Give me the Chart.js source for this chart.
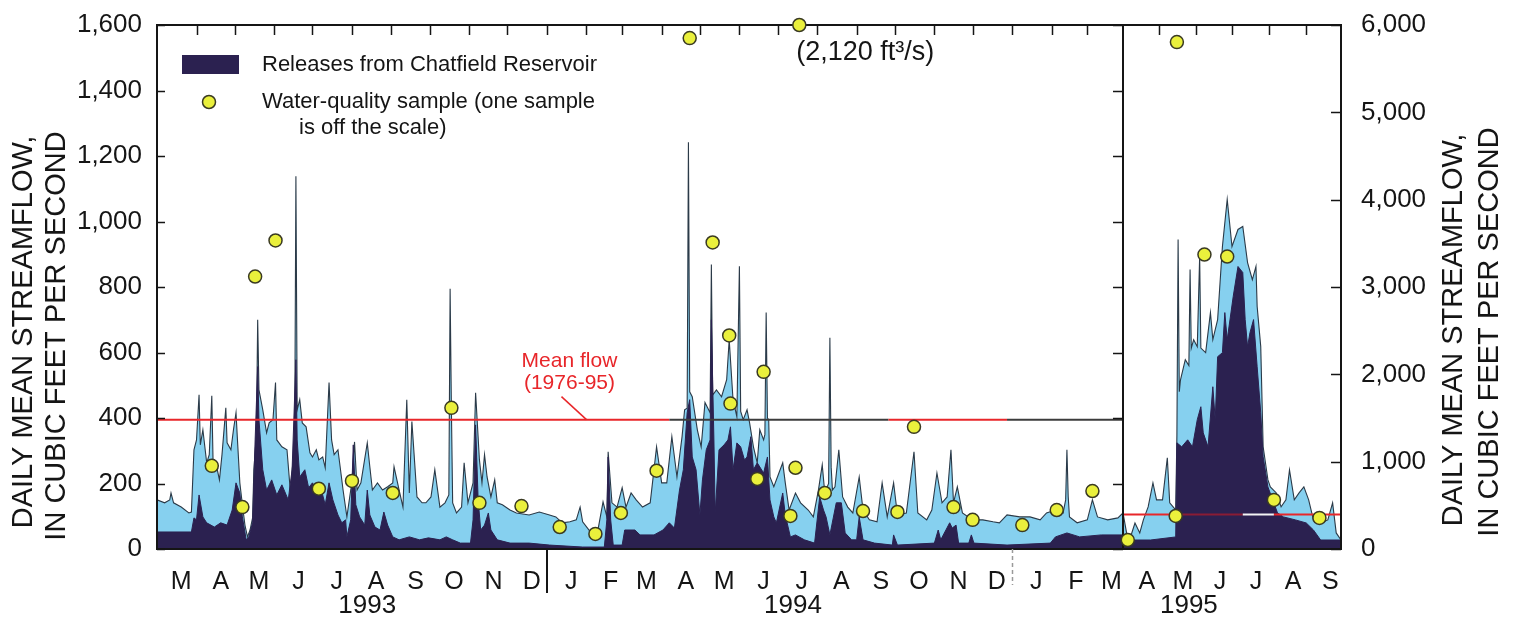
<!DOCTYPE html>
<html>
<head>
<meta charset="utf-8">
<script src="https://cdn.jsdelivr.net/npm/chart.js@4.4.1/dist/chart.umd.min.js"></script>
<style>
  html, body { margin: 0; padding: 0; background: #fff; }
  #wrap { position: relative; width: 1518px; height: 618px; overflow: hidden; }
  #left { position: absolute; left: 0; top: 0; }
  #right { position: absolute; left: 1100px; top: 0; }
</style>
</head>
<body>
<div id="wrap">
  <canvas id="left" width="1150" height="618"></canvas>
  <canvas id="right" width="418" height="618"></canvas>
</div>
<script>
// daily mean streamflow, cfs
const flow1993 = [
  ['1993-03-01',150],['1993-03-07',141],['1993-03-11',150],['1993-03-12',171],['1993-03-14',141],['1993-03-20',128],
  ['1993-03-26',110],['1993-03-28',113],['1993-03-30',303],['1993-04-01',333],['1993-04-03',471],['1993-04-04',318],
  ['1993-04-06',364],['1993-04-09',263],['1993-04-11',288],['1993-04-13',468],['1993-04-14',266],['1993-04-17',248],
  ['1993-04-19',211],['1993-04-21',288],['1993-04-24',431],['1993-04-25',324],['1993-04-28',303],['1993-04-30',364],
  ['1993-05-02',416],['1993-05-03',343],['1993-05-05',202],['1993-05-07',135],['1993-05-09',73],['1993-05-11',37],
  ['1993-05-13',58],['1993-05-15',95],['1993-05-16',242],['1993-05-18',350],['1993-05-19',700],['1993-05-20',486],
  ['1993-05-23',425],['1993-05-26',355],['1993-05-28',385],['1993-05-31',395],['1993-06-02',508],['1993-06-03',333],
  ['1993-06-07',312],['1993-06-11',303],['1993-06-14',159],['1993-06-15',242],['1993-06-17',300],['1993-06-18',1138],
  ['1993-06-19',425],['1993-06-21',456],['1993-06-23',385],['1993-06-26',373],['1993-06-29',294],['1993-07-01',281],
  ['1993-07-04',303],['1993-07-06',272],['1993-07-09',281],['1993-07-11',248],['1993-07-14',508],['1993-07-16',333],
  ['1993-07-18',288],['1993-07-21',303],['1993-07-23',242],['1993-07-25',180],['1993-07-28',98],['1993-07-31',180],
  ['1993-08-01',202],['1993-08-03',327],['1993-08-05',180],['1993-08-08',202],['1993-08-13',324],['1993-08-15',251],
  ['1993-08-17',180],['1993-08-21',202],['1993-08-25',180],['1993-08-29',190],['1993-09-02',202],['1993-09-03',251],
  ['1993-09-07',180],['1993-09-10',128],['1993-09-13',456],['1993-09-15',171],['1993-09-17',389],['1993-09-21',159],
  ['1993-09-25',141],['1993-09-28',141],['1993-10-02',159],['1993-10-05',242],['1993-10-09',128],['1993-10-13',141],
  ['1993-10-16',165],['1993-10-17',795],['1993-10-18',430],['1993-10-19',141],['1993-10-22',110],['1993-10-26',128],
  ['1993-10-28',263],['1993-10-31',141],['1993-11-04',202],['1993-11-06',477],['1993-11-09',272],['1993-11-11',202],
  ['1993-11-13',288],['1993-11-15',220],['1993-11-18',159],['1993-11-21',211],['1993-11-23',141],['1993-11-27',135],
  ['1993-12-03',119],['1993-12-08',110],['1993-12-18',104],['1993-12-26',113]
];
const flow1994 = [
  ['1994-01-03',104],['1994-01-08',98],['1994-01-13',80],['1994-01-19',83],['1994-01-24',89],['1994-01-27',128],
  ['1994-01-29',83],['1994-02-03',58],['1994-02-09',37],['1994-02-14',144],['1994-02-17',98],['1994-02-18',297],
  ['1994-02-21',141],['1994-02-25',128],['1994-03-01',187],['1994-03-04',128],['1994-03-08',171],['1994-03-12',150],
  ['1994-03-17',128],['1994-03-23',141],['1994-03-28',312],['1994-04-01',202],['1994-04-05',202],['1994-04-09',343],
  ['1994-04-13',220],['1994-04-17',343],['1994-04-19',425],['1994-04-21',430],['1994-04-22',1242],['1994-04-23',480],
  ['1994-04-25',465],['1994-04-29',364],['1994-05-02',312],['1994-05-05',447],['1994-05-09',416],['1994-05-10',869],
  ['1994-05-11',470],['1994-05-14',486],['1994-05-18',465],['1994-05-22',517],['1994-05-24',639],['1994-05-27',456],
  ['1994-05-30',404],['1994-06-01',863],['1994-06-02',420],['1994-06-04',395],['1994-06-07',425],['1994-06-09',385],
  ['1994-06-12',312],['1994-06-15',263],['1994-06-17',364],['1994-06-20',333],['1994-06-21',350],['1994-06-22',722],
  ['1994-06-23',400],['1994-06-24',395],['1994-06-25',220],['1994-06-28',190],['1994-07-02',232],['1994-07-05',263],
  ['1994-07-07',202],['1994-07-10',119],['1994-07-15',171],['1994-07-19',141],['1994-07-25',119],['1994-07-29',98],
  ['1994-08-02',180],['1994-08-05',257],['1994-08-07',171],['1994-08-10',200],['1994-08-11',645],['1994-08-12',250],
  ['1994-08-13',180],['1994-08-15',190],['1994-08-18',303],['1994-08-21',159],['1994-08-25',128],['1994-08-29',110],
  ['1994-09-03',220],['1994-09-06',119],['1994-09-11',89],['1994-09-17',83],['1994-09-21',202],['1994-09-25',98],
  ['1994-09-30',202],['1994-10-03',104],['1994-10-10',110],['1994-10-16',297],['1994-10-19',110],['1994-10-26',89],
  ['1994-10-30',119],['1994-11-03',232],['1994-11-07',141],['1994-11-11',159],['1994-11-14',303],['1994-11-16',141],
  ['1994-11-19',190],['1994-11-23',110],['1994-12-01',89],['1994-12-09',89],['1994-12-17',83],['1994-12-22',80],
  ['1994-12-28',104]
];
const flow1995Q1 = [
  ['1995-01-07',98],['1995-01-15',98],['1995-01-23',89],['1995-01-28',110],['1995-02-04',119],['1995-02-10',110],
  ['1995-02-12',150],['1995-02-13',303],['1995-02-14',160],['1995-02-15',98],['1995-02-21',80],['1995-03-01',89],
  ['1995-03-05',150],['1995-03-09',98],['1995-03-17',89],['1995-03-25',95],['1995-03-29',110]
];
const flow1995 = [
  ['1995-04-01',413],['1995-04-04',184],['1995-04-07',126],['1995-04-11',298],['1995-04-15',184],['1995-04-18',333],
  ['1995-04-22',482],['1995-04-26',757],['1995-04-29',562],['1995-05-04',562],['1995-05-08',1044],['1995-05-10',528],
  ['1995-05-15',447],['1995-05-16',1300],['1995-05-17',3544],['1995-05-18',1800],['1995-05-19',1938],['1995-05-23',2168],
  ['1995-05-26',2100],['1995-05-27',3200],['1995-05-28',2300],['1995-05-30',2397],['1995-06-02',2317],['1995-06-04',3349],
  ['1995-06-05',2300],['1995-06-09',2248],['1995-06-13',2707],['1995-06-15',2397],['1995-06-19',2627],['1995-06-23',3464],
  ['1995-06-27',4003],['1995-07-01',3464],['1995-07-06',3659],['1995-07-10',3693],['1995-07-14',3280],['1995-07-18',3085],
  ['1995-07-21',3235],['1995-07-22',2776],['1995-07-25',2317],['1995-07-27',1170],['1995-07-31',791],['1995-08-02',711],
  ['1995-08-07',642],['1995-08-11',482],['1995-08-15',562],['1995-08-18',906],['1995-08-22',562],['1995-08-26',642],
  ['1995-08-30',711],['1995-09-03',562],['1995-09-07',333],['1995-09-13',298],['1995-09-19',333],['1995-09-23',528],
  ['1995-09-26',184],['1995-09-30',103]
];

// releases from Chatfield Reservoir, cfs
const release1993 = [
  ['1993-03-01',52],['1993-03-28',52],['1993-03-30',95],['1993-04-01',89],['1993-04-03',165],['1993-04-06',98],
  ['1993-04-09',80],['1993-04-15',67],['1993-04-20',80],['1993-04-25',73],['1993-04-29',119],['1993-05-02',202],
  ['1993-05-05',171],['1993-05-07',98],['1993-05-10',28],['1993-05-12',37],['1993-05-15',80],['1993-05-17',333],
  ['1993-05-19',557],['1993-05-20',395],['1993-05-23',242],['1993-05-26',180],['1993-05-30',211],['1993-06-03',165],
  ['1993-06-07',196],['1993-06-12',150],['1993-06-15',242],['1993-06-18',578],['1993-06-19',333],['1993-06-21',220],
  ['1993-06-25',242],['1993-06-28',187],['1993-07-01',202],['1993-07-05',171],['1993-07-08',180],['1993-07-11',135],
  ['1993-07-14',202],['1993-07-17',150],['1993-07-21',104],['1993-07-24',80],['1993-07-27',89],['1993-07-28',37],
  ['1993-07-31',89],['1993-08-02',318],['1993-08-04',135],['1993-08-07',98],['1993-08-11',73],['1993-08-13',180],
  ['1993-08-15',104],['1993-08-19',67],['1993-08-23',58],['1993-08-26',113],['1993-08-29',73],['1993-09-02',37],
  ['1993-09-07',28],['1993-09-15',37],['1993-09-23',28],['1993-09-30',34],['1993-10-09',28],['1993-10-14',37],
  ['1993-10-19',28],['1993-10-25',18],['1993-11-02',18],['1993-11-04',89],['1993-11-06',379],['1993-11-08',150],
  ['1993-11-10',58],['1993-11-13',73],['1993-11-16',110],['1993-11-18',58],['1993-11-23',28],['1993-12-03',18],
  ['1993-12-18',18]
];
const release1994 = [
  ['1994-01-03',12],['1994-01-29',6],['1994-02-15',6],['1994-02-17',89],['1994-02-18',281],['1994-02-20',89],
  ['1994-02-22',12],['1994-03-01',12],['1994-03-03',58],['1994-03-11',58],['1994-03-15',43],['1994-03-26',43],
  ['1994-04-02',58],['1994-04-07',80],['1994-04-11',64],['1994-04-15',180],['1994-04-18',242],['1994-04-21',416],
  ['1994-04-23',456],['1994-04-25',281],['1994-04-28',242],['1994-05-01',104],['1994-05-03',211],['1994-05-06',303],
  ['1994-05-09',333],['1994-05-10',700],['1994-05-12',333],['1994-05-13',110],['1994-05-16',303],['1994-05-20',318],
  ['1994-05-23',333],['1994-05-25',373],['1994-05-27',242],['1994-05-30',324],['1994-06-02',312],['1994-06-05',272],
  ['1994-06-07',281],['1994-06-10',343],['1994-06-12',242],['1994-06-15',263],['1994-06-20',232],['1994-06-23',281],
  ['1994-06-25',150],['1994-06-28',98],['1994-06-30',80],['1994-07-05',171],['1994-07-07',104],['1994-07-11',37],
  ['1994-07-15',43],['1994-07-22',28],['1994-07-30',18],['1994-08-03',159],['1994-08-06',119],['1994-08-08',98],
  ['1994-08-11',43],['1994-08-16',141],['1994-08-20',141],['1994-08-23',49],['1994-08-28',28],['1994-09-01',28],
  ['1994-09-03',98],['1994-09-06',28],['1994-09-15',18],['1994-09-29',12],['1994-09-30',43],['1994-10-03',12],
  ['1994-11-01',18],['1994-11-04',58],['1994-11-06',28],['1994-11-13',80],['1994-11-15',64],['1994-11-18',73],
  ['1994-11-20',18],['1994-11-28',18],['1994-11-30',43],['1994-12-02',18],['1994-12-28',12]
];
const release1995Q1 = [
  ['1995-01-31',18],['1995-02-04',37],['1995-02-13',49],['1995-02-23',37],['1995-03-12',43],['1995-03-29',43]
];
const release1995 = [
  ['1995-04-01',103],['1995-04-24',103],['1995-05-15',138],['1995-05-16',1216],['1995-05-20',1170],['1995-05-25',1250],
  ['1995-05-29',1170],['1995-06-02',1480],['1995-06-05',1629],['1995-06-07',1330],['1995-06-11',1170],['1995-06-15',1858],
  ['1995-06-17',1480],['1995-06-19',2202],['1995-06-23',2248],['1995-06-25',2707],['1995-06-27',2397],['1995-07-02',2890],
  ['1995-07-06',3235],['1995-07-10',3166],['1995-07-12',2627],['1995-07-14',2317],['1995-07-16',2477],['1995-07-19',2627],
  ['1995-07-22',2088],['1995-07-25',1560],['1995-07-27',1055],['1995-07-31',711],['1995-08-04',562],['1995-08-08',413],
  ['1995-08-13',367],['1995-08-23',333],['1995-09-01',298],['1995-09-07',218],['1995-09-13',103],['1995-09-30',103]
];

// water-quality samples: date, streamflow at sampling (cfs)
const samplesLeft = [
  ['1993-04-13',254],['1993-05-07',128],['1993-05-17',832],['1993-06-02',942],['1993-07-06',184],['1993-08-01',208],
  ['1993-09-02',171],['1993-10-18',431],['1993-11-09',141],['1993-12-12',131],['1994-01-11',67],['1994-02-08',46],
  ['1994-02-28',110],['1994-03-28',239],['1994-04-23',1560],['1994-05-11',936],['1994-05-24',652],['1994-05-25',444],
  ['1994-06-15',214],['1994-06-20',541],['1994-07-11',101],['1994-07-15',248],['1994-07-18',2120],['1994-08-07',171],
  ['1994-09-06',116],['1994-10-03',113],['1994-10-16',373],['1994-11-16',128],['1994-12-01',89],['1995-01-09',73],
  ['1995-02-05',119],['1995-03-05',177]
];
const samplesRight = [
  ['1995-04-05',103],['1995-05-15',378],['1995-05-16',5804],['1995-06-08',3372],['1995-06-27',3349],['1995-08-05',562],
  ['1995-09-12',356]
];

const MEAN_FLOW_CFS = 395;            // mean flow 1976-95
const LEFT_RANGE = ['1993-03-01', '1995-03-29'];
const RIGHT_RANGE = ['1995-04-01', '1995-09-30'];
const LEFT_MAX = 1600, RIGHT_MAX = 6000;
const MONTH_LETTERS = ['J','F','M','A','M','J','J','A','S','O','N','D'];
const YEAR_LABELS_LEFT = [['1993', '1993-08-13'], ['1994', '1994-07-13']];
const YEAR_LABELS_RIGHT = [['1995', '1995-05-26']];

// styling
const FONT = '"Liberation Sans", Arial, Helvetica, sans-serif';
const INK = '#151515';
const SKY = '#86d0ef';
const NAVY = '#2b2150';
const OUTLINE = '#2b3a48';
const RED = '#e8262a';
const YELLOW = '#eaf03c';

const day = s => (Date.parse(s + 'T00:00:00Z') - Date.parse('1993-03-01T00:00:00Z')) / 864e5;
const toXY = pairs => pairs.map(([d, v]) => ({ x: day(d), y: v }));
const clampXY = (pairs, max) => pairs.map(([d, v]) => ({ x: day(d), y: Math.min(v, max) }));

function monthsBetween(from, to) {
  const out = [];
  let [y, m] = from.split('-').map(Number);
  const [y2, m2] = to.split('-').map(Number);
  while (y < y2 || (y === y2 && m <= m2)) {
    out.push([y, m]);
    m++; if (m > 12) { m = 1; y++; }
  }
  return out;
}
const pad = n => String(n).padStart(2, '0');
const leftMonths = monthsBetween('1993-03', '1995-03');
const rightMonths = monthsBetween('1995-04', '1995-09');

const frame = {
  id: 'frame',
  beforeDatasetDraw(chart, args, opts) {
    if (args.index !== 0) return;
    const { ctx, chartArea: a, scales } = chart;
    const x = scales.x, ys = scales[opts.axis];
    ctx.save();
    ctx.strokeStyle = INK;
    ctx.lineWidth = 2;
    ctx.strokeRect(a.left, a.top, a.right - a.left, a.bottom - a.top);
    ctx.lineWidth = 1.5;
    ctx.beginPath();
    opts.topTicks.forEach(d => {
      const px = Math.round(x.getPixelForValue(d)) + 0.5;
      ctx.moveTo(px, a.top); ctx.lineTo(px, a.top + 10);
    });
    ys.ticks.forEach(t => {
      const py = Math.round(ys.getPixelForValue(t.value)) + 0.5;
      if (opts.left) { ctx.moveTo(a.left, py); ctx.lineTo(a.left + 8, py); }
      if (opts.right) { ctx.moveTo(a.right, py); ctx.lineTo(a.right - 10, py); }
    });
    ctx.stroke();
    ctx.restore();
  }
};

function rotatedText(ctx, text, cx, cy) {
  ctx.save();
  ctx.translate(cx, cy);
  ctx.rotate(-Math.PI / 2);
  ctx.fillText(text, 0, 0);
  ctx.restore();
}

const leftDecor = {
  id: 'leftDecor',
  afterDraw(chart) {
    const { ctx, chartArea: a, scales: { x, y } } = chart;
    ctx.save();
    ctx.fillStyle = INK;
    ctx.textAlign = 'center';
    ctx.textBaseline = 'middle';
    ctx.font = `29px ${FONT}`;
    rotatedText(ctx, 'DAILY MEAN STREAMFLOW,', 24, 332);
    rotatedText(ctx, 'IN CUBIC FEET PER SECOND', 57, 336);

    ctx.font = `26px ${FONT}`;
    YEAR_LABELS_LEFT.forEach(([t, d]) => ctx.fillText(t, x.getPixelForValue(day(d)), 606));

    // year separators below the axis
    ctx.strokeStyle = INK;
    ctx.lineWidth = 2;
    let px = Math.round(x.getPixelForValue(day('1994-01-01')));
    ctx.beginPath(); ctx.moveTo(px, a.bottom); ctx.lineTo(px, a.bottom + 44); ctx.stroke();
    ctx.strokeStyle = '#9a9a9a';
    ctx.lineWidth = 1.5;
    ctx.setLineDash([4, 3]);
    px = Math.round(x.getPixelForValue(day('1995-01-01'))) + 0.5;
    ctx.beginPath(); ctx.moveTo(px, a.bottom); ctx.lineTo(px, a.bottom + 36); ctx.stroke();
    ctx.setLineDash([]);

    // legend
    ctx.fillStyle = NAVY;
    ctx.fillRect(a.left + 25, a.top + 30, 57, 19);
    ctx.beginPath();
    ctx.arc(a.left + 52, a.top + 77, 6.5, 0, Math.PI * 2);
    ctx.fillStyle = YELLOW; ctx.fill();
    ctx.lineWidth = 1.5; ctx.strokeStyle = '#3a3a22'; ctx.stroke();
    ctx.fillStyle = INK;
    ctx.textAlign = 'left';
    ctx.font = `22px ${FONT}`;
    ctx.fillText('Releases from Chatfield Reservoir', a.left + 105, a.top + 40);
    ctx.fillText('Water-quality sample (one sample', a.left + 105, a.top + 77);
    ctx.fillText('is off the scale)', a.left + 142, a.top + 103);

    // mean flow label with leader
    const ax = x.getPixelForValue(day('1994-02-01'));
    const ay = y.getPixelForValue(MEAN_FLOW_CFS);
    ctx.strokeStyle = RED; ctx.lineWidth = 1.5;
    ctx.beginPath(); ctx.moveTo(ax - 25, ay - 23); ctx.lineTo(ax, ay); ctx.stroke();
    ctx.fillStyle = RED;
    ctx.textAlign = 'center';
    ctx.font = `21px ${FONT}`;
    ctx.fillText('Mean flow', ax - 17, ay - 58);
    ctx.fillText('(1976-95)', ax - 17, ay - 36);

    // off-scale sample note
    ctx.fillStyle = INK;
    ctx.textAlign = 'left';
    ctx.font = `27px ${FONT}`;
    samplesLeft.filter(([, v]) => v > LEFT_MAX).forEach(([d, v]) => {
      const sx = x.getPixelForValue(day(d));
      const sy = y.getPixelForValue(LEFT_MAX);
      ctx.fillText(`(${v.toLocaleString('en-US')} ft³/s)`, sx - 3, sy + 28);
    });
    ctx.restore();
  }
};

const rightDecor = {
  id: 'rightDecor',
  afterDraw(chart) {
    const { ctx, scales: { x } } = chart;
    ctx.save();
    ctx.fillStyle = INK;
    ctx.textAlign = 'center';
    ctx.textBaseline = 'middle';
    ctx.font = `29px ${FONT}`;
    rotatedText(ctx, 'DAILY MEAN STREAMFLOW,', 354, 330);
    rotatedText(ctx, 'IN CUBIC FEET PER SECOND', 390, 332);
    ctx.font = `26px ${FONT}`;
    YEAR_LABELS_RIGHT.forEach(([t, d]) => ctx.fillText(t, x.getPixelForValue(day(d)), 606));
    ctx.restore();
  }
};

const tickFont = { family: FONT, size: 26, lineHeight: 1 };
const monthFont = { family: FONT, size: 25 };

function baseOptions() {
  return {
    responsive: false,
    animation: false,
    devicePixelRatio: 1,
    events: [],
    elements: { line: { tension: 0 }, point: { radius: 0 } },
    plugins: { legend: { display: false }, tooltip: { enabled: false } }
  };
}

// left panel: March 1993 - March 1995, 0-1,600 cfs
const leftOpts = baseOptions();
leftOpts.layout = { padding: { top: 25, right: 27, left: 0, bottom: 0 } };
leftOpts.plugins.frame = {
  axis: 'y', left: true, right: true,
  topTicks: leftMonths.slice(1).map(([yy, mm]) => day(`${yy}-${pad(mm)}-01`))
};
leftOpts.scales = {
  x: {
    type: 'linear',
    min: day(LEFT_RANGE[0]), max: day(LEFT_RANGE[1]),
    grid: { display: false }, border: { display: false },
    afterFit: s => { s.height = 69; },
    afterBuildTicks: s => { s.ticks = leftMonths.map(([yy, mm]) => ({ value: day(`${yy}-${pad(mm)}-01`) + 19 })); },
    ticks: {
      autoSkip: false, maxRotation: 0, padding: 10, color: INK, font: monthFont,
      callback: (v, i) => MONTH_LETTERS[leftMonths[i][1] - 1]
    }
  },
  y: {
    min: 0, max: LEFT_MAX,
    grid: { display: false }, border: { display: false },
    afterFit: s => { s.width = 157; },
    ticks: {
      stepSize: 200, padding: 7, color: INK, font: tickFont,
      callback: v => v.toLocaleString('en-US')
    }
  }
};

new Chart(document.getElementById('left'), {
  type: 'line',
  data: {
    datasets: [
      {
        label: 'Water-quality sample',
        data: clampXY(samplesLeft, LEFT_MAX),
        showLine: false, clip: false, order: 0,
        pointRadius: 6.5, pointBackgroundColor: YELLOW, pointBorderColor: '#3a3a22', pointBorderWidth: 1.5
      },
      {
        label: 'Mean flow (1976-95)',
        data: ['1993-03-01', '1994-04-07', '1994-09-26', '1994-12-28', '1995-03-29'].map(d => ({ x: day(d), y: MEAN_FLOW_CFS })),
        borderColor: RED, borderWidth: 2, fill: false, order: 1,
        segment: { borderColor: c => [RED, '#3c3c3c', RED, '#3c3c3c'][c.p0DataIndex] }
      },
      {
        label: 'Releases from Chatfield Reservoir',
        data: toXY([...release1993, ...release1994, ...release1995Q1]),
        fill: 'origin', backgroundColor: NAVY, borderColor: NAVY, borderWidth: 1, order: 2
      },
      {
        label: 'Daily mean streamflow',
        data: toXY([...flow1993, ...flow1994, ...flow1995Q1]),
        fill: 'origin', backgroundColor: SKY, borderColor: OUTLINE, borderWidth: 1.1, order: 3
      }
    ]
  },
  options: leftOpts,
  plugins: [frame, leftDecor]
});

// right panel: April - September 1995, 0-6,000 cfs
const rightOpts = baseOptions();
rightOpts.layout = { padding: { top: 25, right: 0, left: 23, bottom: 0 } };
rightOpts.plugins.frame = {
  axis: 'y', left: false, right: true,
  topTicks: rightMonths.slice(1).map(([yy, mm]) => day(`${yy}-${pad(mm)}-01`))
};
rightOpts.scales = {
  x: {
    type: 'linear',
    min: day(RIGHT_RANGE[0]), max: day(RIGHT_RANGE[1]),
    grid: { display: false }, border: { display: false },
    afterFit: s => { s.height = 69; },
    afterBuildTicks: s => { s.ticks = rightMonths.map(([yy, mm]) => ({ value: day(`${yy}-${pad(mm)}-01`) + 20 })); },
    ticks: {
      autoSkip: false, maxRotation: 0, padding: 10, color: INK, font: monthFont,
      callback: (v, i) => MONTH_LETTERS[rightMonths[i][1] - 1]
    }
  },
  y: {
    position: 'right',
    min: 0, max: RIGHT_MAX,
    grid: { display: false }, border: { display: false },
    afterFit: s => { s.width = 177; },
    ticks: {
      stepSize: 1000, padding: 12, color: INK, font: tickFont,
      callback: v => v.toLocaleString('en-US')
    }
  }
};

new Chart(document.getElementById('right'), {
  type: 'line',
  data: {
    datasets: [
      {
        label: 'Water-quality sample',
        data: clampXY(samplesRight, RIGHT_MAX),
        showLine: false, clip: false, order: 0,
        pointRadius: 6.5, pointBackgroundColor: YELLOW, pointBorderColor: '#3a3a22', pointBorderWidth: 1.5
      },
      {
        label: 'Mean flow (1976-95)',
        data: ['1995-04-01', '1995-05-16', '1995-07-10', '1995-08-05', '1995-09-30'].map(d => ({ x: day(d), y: MEAN_FLOW_CFS })),
        borderColor: RED, borderWidth: 2, fill: false, order: 1,
        segment: { borderColor: c => [RED, '#8a1c34', '#f4f4f4', RED][c.p0DataIndex] }
      },
      {
        label: 'Releases from Chatfield Reservoir',
        data: toXY(release1995),
        fill: 'origin', backgroundColor: NAVY, borderColor: NAVY, borderWidth: 1, order: 2
      },
      {
        label: 'Daily mean streamflow',
        data: toXY(flow1995),
        fill: 'origin', backgroundColor: SKY, borderColor: OUTLINE, borderWidth: 1.1, order: 3
      }
    ]
  },
  options: rightOpts,
  plugins: [frame, rightDecor]
});
</script>
</body>
</html>
